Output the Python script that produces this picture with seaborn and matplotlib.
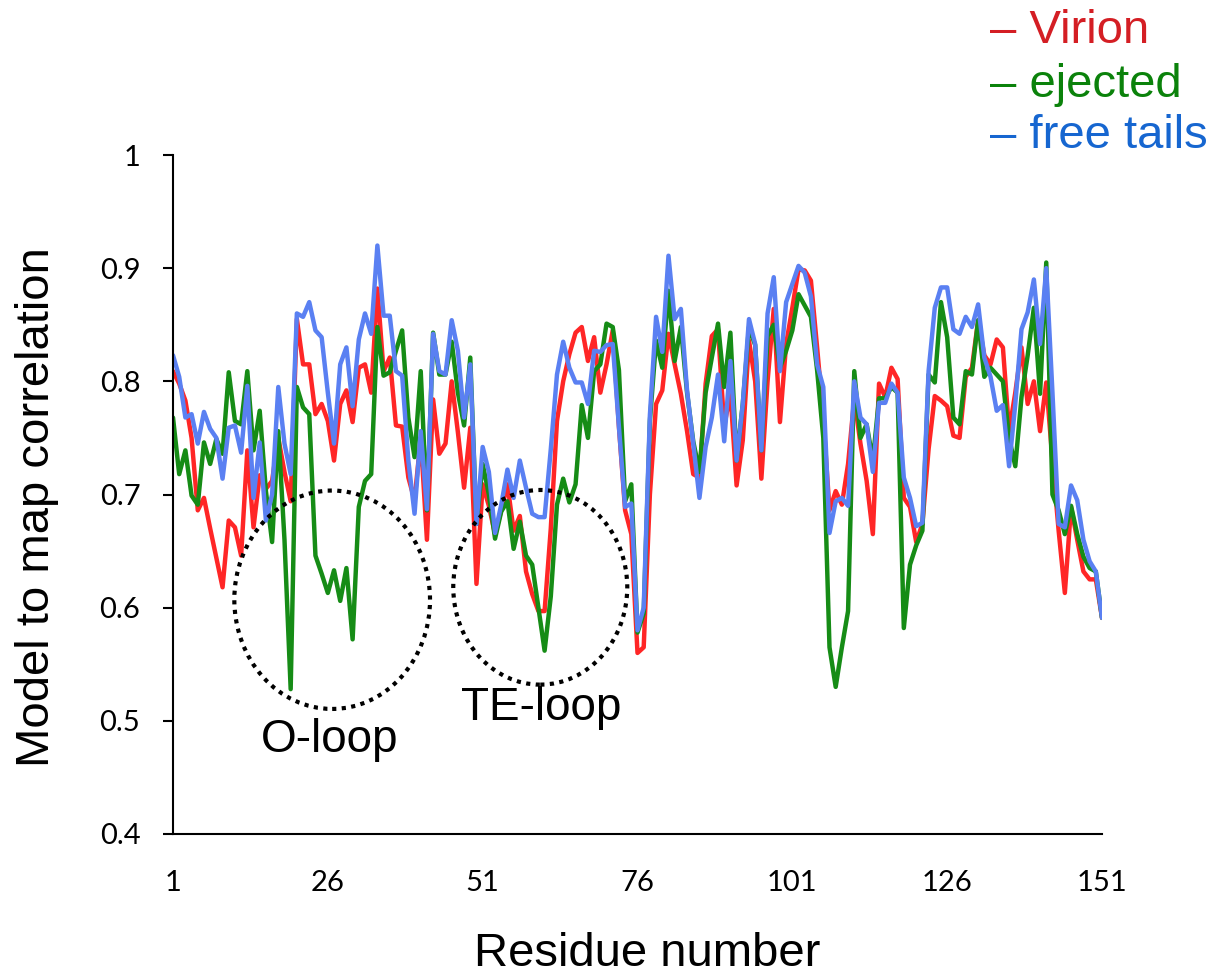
import numpy as np
import pandas as pd
import matplotlib
matplotlib.use("Agg")
import matplotlib.pyplot as plt
from matplotlib.patches import Ellipse
import seaborn as sns

residues = list(range(1, 152))

virion = [
    0.809, 0.798, 0.783, 0.750, 0.686, 0.697, 0.670, 0.644, 0.618, 0.677,
    0.671, 0.646, 0.739, 0.671, 0.717, 0.705, 0.712, 0.750, 0.720, 0.694,
    0.855, 0.815, 0.815, 0.771, 0.780, 0.765, 0.730, 0.780, 0.792, 0.764,
    0.812, 0.815, 0.790, 0.882, 0.809, 0.821, 0.761, 0.760, 0.715, 0.695,
    0.750, 0.660, 0.784, 0.736, 0.745, 0.800, 0.755, 0.706, 0.759, 0.621,
    0.709, 0.690, 0.665, 0.686, 0.709, 0.668, 0.681, 0.632, 0.612, 0.597,
    0.597, 0.670, 0.765, 0.800, 0.824, 0.843, 0.848, 0.818, 0.839, 0.790,
    0.815, 0.845, 0.760, 0.686, 0.665, 0.560, 0.565, 0.700, 0.780, 0.792,
    0.842, 0.815, 0.789, 0.756, 0.718, 0.715, 0.798, 0.840, 0.846, 0.760,
    0.790, 0.708, 0.748, 0.836, 0.800, 0.714, 0.800, 0.864, 0.764, 0.833,
    0.865, 0.899, 0.898, 0.889, 0.830, 0.768, 0.686, 0.703, 0.691, 0.727,
    0.785, 0.745, 0.712, 0.665, 0.798, 0.786, 0.812, 0.802, 0.697, 0.689,
    0.658, 0.674, 0.740, 0.787, 0.783, 0.778, 0.752, 0.750, 0.804, 0.812,
    0.854, 0.823, 0.815, 0.837, 0.830, 0.756, 0.790, 0.830, 0.780, 0.800,
    0.756, 0.799, 0.730, 0.668, 0.613, 0.689, 0.660, 0.632, 0.625, 0.625,
    0.591,
]

ejected = [
    0.768, 0.718, 0.739, 0.699, 0.691, 0.746, 0.727, 0.749, 0.736, 0.808,
    0.765, 0.762, 0.809, 0.739, 0.774, 0.703, 0.658, 0.756, 0.660, 0.528,
    0.795, 0.777, 0.771, 0.646, 0.630, 0.613, 0.633, 0.606, 0.635, 0.572,
    0.689, 0.712, 0.718, 0.848, 0.805, 0.808, 0.827, 0.845, 0.768, 0.733,
    0.809, 0.686, 0.843, 0.806, 0.806, 0.835, 0.790, 0.761, 0.821, 0.674,
    0.727, 0.700, 0.661, 0.685, 0.694, 0.652, 0.676, 0.646, 0.638, 0.600,
    0.562, 0.610, 0.691, 0.714, 0.693, 0.709, 0.779, 0.750, 0.809, 0.815,
    0.851, 0.848, 0.810, 0.694, 0.709, 0.578, 0.595, 0.765, 0.836, 0.812,
    0.880, 0.818, 0.848, 0.790, 0.747, 0.720, 0.790, 0.821, 0.851, 0.795,
    0.843, 0.730, 0.780, 0.848, 0.832, 0.739, 0.840, 0.850, 0.812, 0.827,
    0.845, 0.877, 0.867, 0.857, 0.810, 0.750, 0.565, 0.530, 0.565, 0.597,
    0.809, 0.750, 0.762, 0.730, 0.785, 0.785, 0.795, 0.790, 0.582, 0.638,
    0.655, 0.668, 0.806, 0.799, 0.870, 0.839, 0.768, 0.762, 0.809, 0.806,
    0.854, 0.804, 0.812, 0.806, 0.800, 0.750, 0.725, 0.786, 0.823, 0.865,
    0.789, 0.905, 0.700, 0.686, 0.665, 0.690, 0.665, 0.645, 0.635, 0.632,
    0.591,
]

free_tails = [
    0.823, 0.804, 0.768, 0.771, 0.745, 0.773, 0.758, 0.750, 0.714, 0.759,
    0.761, 0.737, 0.796, 0.697, 0.746, 0.677, 0.700, 0.795, 0.745, 0.718,
    0.860, 0.857, 0.870, 0.845, 0.839, 0.790, 0.745, 0.815, 0.830, 0.778,
    0.837, 0.860, 0.842, 0.920, 0.858, 0.858, 0.809, 0.805, 0.730, 0.683,
    0.756, 0.687, 0.842, 0.809, 0.806, 0.854, 0.827, 0.768, 0.815, 0.674,
    0.742, 0.720, 0.666, 0.691, 0.722, 0.697, 0.730, 0.706, 0.683, 0.680,
    0.680, 0.740, 0.806, 0.835, 0.812, 0.799, 0.799, 0.780, 0.827, 0.826,
    0.832, 0.833, 0.760, 0.689, 0.692, 0.580, 0.600, 0.770, 0.857, 0.826,
    0.911, 0.855, 0.864, 0.792, 0.745, 0.697, 0.742, 0.768, 0.806, 0.747,
    0.818, 0.730, 0.780, 0.855, 0.833, 0.739, 0.860, 0.892, 0.809, 0.870,
    0.886, 0.902, 0.896, 0.875, 0.815, 0.795, 0.666, 0.694, 0.697, 0.690,
    0.800, 0.768, 0.762, 0.720, 0.781, 0.781, 0.798, 0.790, 0.715, 0.697,
    0.672, 0.675, 0.809, 0.865, 0.883, 0.883, 0.846, 0.842, 0.857, 0.848,
    0.868, 0.821, 0.804, 0.774, 0.779, 0.725, 0.780, 0.846, 0.861, 0.890,
    0.833, 0.900, 0.790, 0.674, 0.671, 0.708, 0.695, 0.660, 0.641, 0.632,
    0.591,
]

series_names = ["Virion", "ejected", "free tails"]
xticks = [1, 26, 51, 76, 101, 126, 151]
yticks = [0.4, 0.5, 0.6, 0.7, 0.8, 0.9, 1.0]
ytick_labels = ["0.4", "0.5", "0.6", "0.7", "0.8", "0.9", "1"]

line_colors = {"Virion": "#ff2626", "ejected": "#168c16", "free tails": "#5a80f2"}
text_colors = {"Virion": "#d41e24", "ejected": "#0b820b", "free tails": "#1666d0"}

df = pd.concat([
    pd.DataFrame({"Residue": residues, "corr": vals, "series": name})
    for name, vals in zip(series_names, [virion, ejected, free_tails])
], ignore_index=True)

sns.set_style("white")
plt.rcParams["font.family"] = ["Liberation Sans", "DejaVu Sans"]
plt.rcParams["text.color"] = "black"
plt.rcParams["xtick.color"] = "black"
plt.rcParams["ytick.color"] = "black"
plt.rcParams["axes.labelcolor"] = "black"

fig = plt.figure(figsize=(12.22, 9.75), dpi=100)
ax = fig.add_axes([173 / 1222, 1 - 834 / 975, (1102 - 173) / 1222, (834 - 155) / 975])

sns.lineplot(data=df, x="Residue", y="corr", hue="series", hue_order=series_names,
             palette=line_colors, linewidth=3.2, ax=ax, legend=False, sort=False)

ax.set_xlim(1, 151)
ax.set_ylim(0.4, 1.0)
ax.set_xticks(xticks)
ax.set_xticklabels([str(t) for t in xticks], fontfamily="Lato", fontsize=21, color="black")
ax.set_yticks(yticks)
ax.set_yticklabels(ytick_labels, fontfamily="Lato", fontsize=21, color="black")
ax.set_xticks([1], minor=True)
ax.tick_params(axis="x", which="major", length=0, pad=26)
ax.tick_params(axis="x", which="minor", length=7.5, width=1.5, direction="out", color="black")
ax.tick_params(axis="y", which="major", length=7.5, width=1.5, direction="out", pad=16,
               left=True, color="black")
ax.set_xlabel("")
ax.set_ylabel("")
for s in ["top", "right"]:
    ax.spines[s].set_visible(False)
for s in ["left", "bottom"]:
    ax.spines[s].set_color("black")
    ax.spines[s].set_linewidth(1.5)
ax.grid(False)

# dotted loop circles
ax.add_patch(Ellipse((26.7, 0.607), 31.6, 0.193, fill=False, edgecolor="black",
                     linewidth=3, linestyle=(0, (1, 1.3)), zorder=5))
ax.add_patch(Ellipse((60.3, 0.618), 28.1, 0.172, fill=False, edgecolor="black",
                     linewidth=3, linestyle=(0, (1, 1.3)), zorder=5))

fig.text(330 / 1222, 1 - 740 / 975, "O-loop", fontsize=33, ha="center", va="center",
         color="black")
fig.text(541 / 1222, 1 - 708 / 975, "TE-loop", fontsize=33, ha="center", va="center",
         color="black")

fig.text(37 / 1222, 1 - 507 / 975, "Model to map correlation", fontsize=34,
         rotation=90, ha="center", va="center", color="black")
fig.text(647 / 1222, 1 - 966 / 975, "Residue number", fontsize=34,
         ha="center", va="baseline", color="black")

for name, yb in zip(series_names, [43, 97, 148]):
    fig.text(990 / 1222, 1 - yb / 975, "\u2013 " + name, fontsize=34,
             color=text_colors[name], ha="left", va="baseline")

fig.savefig("out.png", dpi=100)
